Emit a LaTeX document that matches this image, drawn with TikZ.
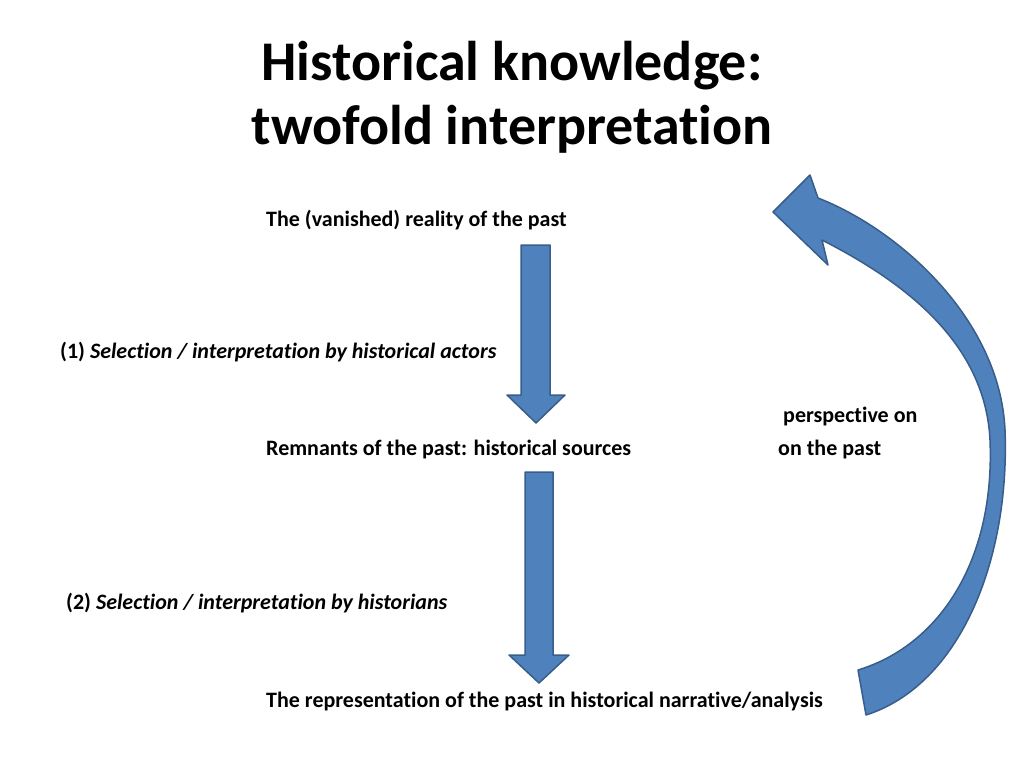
\documentclass[tikz,border=0pt]{standalone}
\usepackage{fontspec}
\setmainfont[Ligatures={NoCommon,NoRare,NoContextual}]{Carlito}
\definecolor{arrfill}{RGB}{79,129,189}
\definecolor{arrdraw}{RGB}{56,93,138}
\begin{document}
\begin{tikzpicture}[x=1pt,y=-1pt,
  lbl/.style={anchor=west,inner sep=0pt,font=\fontsize{22}{26}\selectfont\bfseries},
  blue arrow/.style={fill=arrfill,draw=arrdraw,line width=1.5pt,line join=round}]
\useasboundingbox (0,0) rectangle (1024,768);
\node[align=center,font=\fontsize{56}{64}\selectfont\bfseries] (title) at (512,97) {Historical knowledge:\\twofold interpretation};
\node[lbl] (real) at (266,220) {The (vanished) reality of the past};
\node[lbl] (s1) at (60,352) {(1) \textit{Selection / interpretation by historical actors}};
\node[lbl] (rem) at (266,450) {Remnants of the past: historical sources};
\node[lbl] (p1) at (783,417) {perspective on};
\node[lbl] (p2) at (778,450) {on the past};
\node[lbl] (s2) at (66,603) {(2) \textit{Selection / interpretation by historians}};
\node[lbl] (rep) at (266,701) {The representation of the past in historical narrative/analysis};
\draw[blue arrow] (521,245) -- (550,245) -- (550,395) -- (565,395) -- (536,423) -- (507,395) -- (521,395) -- cycle;
\draw[blue arrow] (525,472) -- (553,472) -- (553,655) -- (569,655) -- (539,683) -- (509,655) -- (525,655) -- cycle;
\draw[blue arrow] (866,715) .. controls (960,685) and (1010,560) .. (1005,430)
  .. controls (1000,320) and (900,230) .. (818,198) -- (810,175) -- (773,212) -- (828,265) -- (822,240)
  .. controls (900,280) and (985,340) .. (990,440)
  .. controls (995,560) and (940,645) .. (858,670) -- cycle;
\end{tikzpicture}
\end{document}
